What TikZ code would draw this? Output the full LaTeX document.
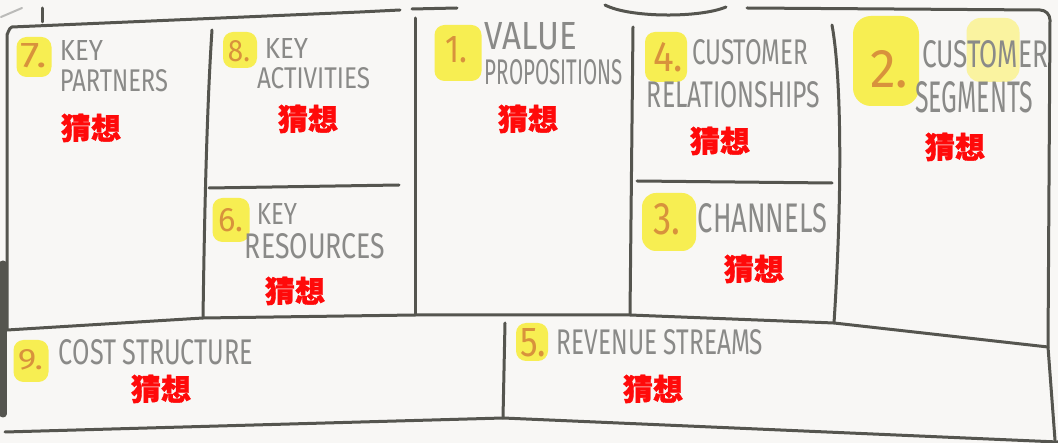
\documentclass[tikz,border=0pt]{standalone}
\usepackage{fontspec}
\usepackage{graphicx}
\setmainfont{Fira Sans}
\newfontfamily\cjk{Noto Sans CJK SC}[BoldFeatures={FakeBold=1.2}]
\definecolor{paper}{HTML}{F8F7F5}
\definecolor{linec}{HTML}{55554F}
\definecolor{labgray}{HTML}{8A8A88}
\definecolor{hlyellow}{HTML}{F7EE52}
\definecolor{hlsoft}{HTML}{FAF3A0}
\definecolor{numorange}{HTML}{D8923C}
\definecolor{guessred}{HTML}{FF0A0A}
\newcommand\fitbox[3]{\resizebox{#1pt}{#2pt}{#3}}
\tikzset{
  edge/.style={draw=linec, line width=3pt, line cap=round, line join=round},
  faint/.style={draw=linec!40, line width=2pt, line cap=round},
  hl/.style={fill=hlyellow, rounded corners=10pt, draw=none, inner sep=0},
  hlfaint/.style={fill=hlsoft, rounded corners=14pt, draw=none, inner sep=0},
  lab/.style={inner sep=0, text=labgray, anchor=center},
  num/.style={inner sep=0, text=numorange, anchor=center},
  guess/.style={inner sep=0, text=guessred, font=\cjk\bfseries\fontsize{30}{30}\selectfont, anchor=center},
}
\begin{document}
\begin{tikzpicture}[x=1pt,y=-1pt]
\useasboundingbox (0,0) rectangle (1058,443);
\fill[paper] (0,0) rectangle (1058,443);

% ---- frame and dividers ----
\draw[faint] (1,17) -- (22,8);
\draw[edge] (42,8) -- (42,22);
\draw[edge] (7,330) -- (7,34) to[out=-90,in=180] (12,27) -- (360,12) -- (400,10);
\draw[edge] (412,9) -- (457,8);
\draw[edge] (605,5) .. controls (630,18) and (700,18) .. (726,7);
\draw[edge] (747,8) -- (1040,10) to[out=0,in=90] (1050,20) -- (1048,347) -- (1055,440);
\draw[line width=7pt, draw=linec, line cap=round] (3,264) -- (3,414);
% middle horizontal
\draw[edge] (7,330) -- (203,318) -- (415,315) -- (630,315) -- (834,323) -- (1048,347);
% bottom
\draw[edge] (5,432) -- (503,418) -- (1058,442);
% verticals
\draw[edge] (212,30) .. controls (206,120) and (204,250) .. (203,318);
\draw[edge] (209,188) -- (399,185);
\draw[edge] (415,18) -- (415,315);
\draw[edge] (633,27) -- (630,315);
\draw[edge] (637,181) -- (832,183);
\draw[edge] (832,25) .. controls (842,80) and (842,200) .. (834,323);
\draw[edge] (505,323) -- (503,418);

% ---- highlights ----
\node[hl, minimum width=35pt, minimum height=40pt] (h7) at (34,57) {};
\node[hl, minimum width=34pt, minimum height=36pt] (h8) at (240,50) {};
\node[hl, minimum width=47pt, minimum height=56pt] (h1) at (458,53) {};
\node[hl, minimum width=42pt, minimum height=50pt] (h4) at (666,57) {};
\node[hlfaint, minimum width=53pt, minimum height=64pt] (h2b) at (993,50) {};
\node[hl, minimum width=66pt, minimum height=90pt, rounded corners=18pt] (h2) at (886,61) {};
\node[hl, minimum width=37pt, minimum height=44pt] (h6) at (231,220) {};
\node[hl, minimum width=54pt, minimum height=58pt, rounded corners=14pt] (h3) at (669,222) {};
\node[hl, minimum width=35pt, minimum height=42pt] (h9) at (31,361) {};
\node[hl, minimum width=32pt, minimum height=38pt] (h5) at (532,342) {};

% ---- numbers ----
\node[num] (n7) at (33.5,55.5) {\fitbox{26}{24}{7.}};
\node[num] (n8) at (239,51) {\fitbox{22}{21}{8.}};
\node[num] (n1) at (456,50) {\fitbox{22}{26}{1.}};
\node[num] (n4) at (668,57) {\fitbox{30}{29}{4.}};
\node[num] (n2) at (889,69) {\fitbox{38}{37}{2.}};
\node[num] (n6) at (230.5,220) {\fitbox{25}{23}{6.}};
\node[num] (n3) at (666.5,219) {\fitbox{27}{31}{3.}};
\node[num] (n9) at (30.5,360) {\fitbox{25}{20}{9.}};
\node[num] (n5) at (533,342.5) {\fitbox{26}{28}{5.}};

% ---- labels ----
\node[lab] (kp1) at (81.5,51) {\fitbox{43}{20}{KEY}};
\node[lab] (kp2) at (114,81) {\fitbox{108}{22}{PARTNERS}};
\node[lab] (ka1) at (286.5,49) {\fitbox{43}{20}{KEY}};
\node[lab] (ka2) at (313.5,78) {\fitbox{113}{21}{ACTIVITIES}};
\node[lab] (vp1) at (531,36) {\fitbox{92}{27}{VALUE}};
\node[lab] (vp2) at (554,72) {\fitbox{138}{25}{PROPOSITIONS}};
\node[lab] (cr1) at (750,52) {\fitbox{116}{25}{CUSTOMER}};
\node[lab] (cr2) at (733.5,95) {\fitbox{173}{26}{RELATIONSHIPS}};
\node[lab] (cs1) at (985,54) {\fitbox{126}{27}{CUSTOMER}};
\node[lab] (cs2) at (974,97) {\fitbox{118}{31}{SEGMENTS}};
\node[lab] (kr1) at (277,214) {\fitbox{40}{21}{KEY}};
\node[lab] (kr2) at (315,246) {\fitbox{140}{25}{RESOURCES}};
\node[lab] (ch) at (762.5,218) {\fitbox{129}{29}{CHANNELS}};
\node[lab] (cost) at (156,352) {\fitbox{194}{25}{COST STRUCTURE}};
\node[lab] (rev) at (660,342) {\fitbox{206}{25}{REVENUE STREAMS}};

% ---- guesses ----
\node[guess] (g7) at (91,128) {猜想};
\node[guess] (g8) at (308,119) {猜想};
\node[guess] (g1) at (528,119) {猜想};
\node[guess] (g4) at (720,141) {猜想};
\node[guess] (g2) at (955,147) {猜想};
\node[guess] (g6) at (295,291) {猜想};
\node[guess] (g3) at (754,269) {猜想};
\node[guess] (g9) at (161,389) {猜想};
\node[guess] (g5) at (653,389) {猜想};
\end{tikzpicture}
\end{document}
